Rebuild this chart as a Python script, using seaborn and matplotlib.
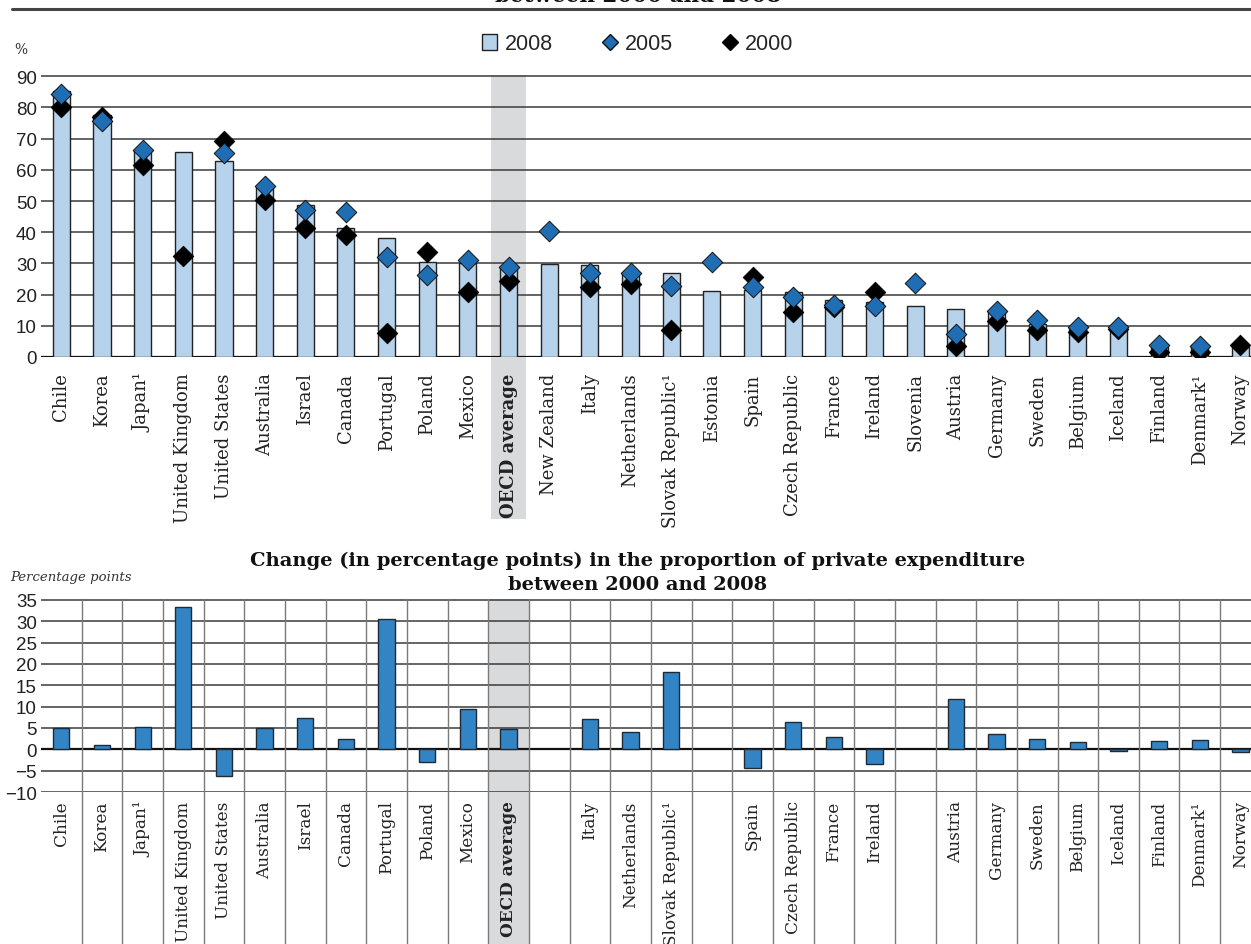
import numpy as np
import pandas as pd
import matplotlib
matplotlib.use("Agg")
import matplotlib.pyplot as plt
import seaborn as sns
from matplotlib.lines import Line2D
from matplotlib.patches import Patch

nan = np.nan
countries = ["Chile", "Korea", "Japan¹", "United Kingdom", "United States", "Australia",
             "Israel", "Canada", "Portugal", "Poland", "Mexico", "OECD average",
             "New Zealand", "Italy", "Netherlands", "Slovak Republic¹", "Estonia", "Spain",
             "Czech Republic", "France", "Ireland", "Slovenia", "Austria", "Germany",
             "Sweden", "Belgium", "Iceland", "Finland", "Denmark¹", "Norway"]
share_2008 = [85.2, 77.6, 66.3, 65.6, 62.7, 54.9, 48.7, 41.3, 38.0, 30.5, 30.2, 29.1,
              29.8, 29.4, 27.2, 27.0, 21.3, 21.6, 20.8, 18.4, 17.5, 16.3, 15.3, 14.7,
              10.6, 9.6, 8.7, 3.2, 3.8, 3.2]
share_2005 = [84.3, 75.8, 66.4, nan, 65.3, 54.9, 47.0, 46.6, 32.1, 26.2, 31.2, 29.0,
              40.5, 27.0, 26.9, 22.8, 30.3, 22.3, 19.1, 16.7, 16.3, 23.6, 7.4, 14.9,
              12.0, 9.6, 9.6, 3.9, 3.5, nan]
share_2000 = [80.2, 76.8, 61.4, 32.4, 69.3, 50.2, 41.3, 39.0, 7.6, 33.5, 20.7, 24.4,
              nan, 22.5, 23.4, 8.8, nan, 25.8, 14.3, 15.9, 20.9, nan, 3.5, 11.4,
              8.5, 8.0, 8.9, 1.5, 1.7, 3.7]
change_2000_2008 = [4.9, 1.0, 5.2, 33.3, -6.3, 4.9, 7.3, 2.4, 30.5, -3.0, 9.4, 4.7,
                    nan, 7.0, 4.0, 18.2, nan, -4.3, 6.4, 2.8, -3.4, nan, 11.7, 3.6,
                    2.4, 1.8, -0.4, 1.9, 2.2, -0.6]
top_yticks = [0, 10, 20, 30, 40, 50, 60, 70, 80, 90]
bottom_yticks = [-10, -5, 0, 5, 10, 15, 20, 25, 30, 35]
highlight = "OECD average"

BAR_LIGHT = "#b7d3ec"
BLUE = "#1f6db3"
BAR_DARK = "#3384c4"
BAND = "#d9dadc"
GRID = "#3a3a3a"
SANS = ["Liberation Sans", "DejaVu Sans"]
SERIF = ["DejaVu Serif"]

sns.set_theme(style="white")
plt.rcParams["font.family"] = SANS

W, H = 1251, 945
fig = plt.figure(figsize=(W / 100, H / 100), dpi=100)

left_px, right_px = 41, 1251
n = len(countries)
cat_w = 40.66
x_right = -0.5 + (right_px - left_px) / cat_w

def fx(px):
    return px / W

def fy(px):
    return 1 - px / H

# ---------------- top chart ----------------
ax1 = fig.add_axes([fx(left_px), fy(358), fx(right_px - left_px), (358 - 76) / H])
cat = pd.Categorical(countries, categories=countries)
df = pd.DataFrame({"country": cat, "y2008": share_2008, "y2005": share_2005,
                   "y2000": share_2000, "chg": change_2000_2008})

hi = countries.index(highlight)
ax1.axvspan(hi - 0.43, hi + 0.43, ymin=-(520 - 358) / 282, ymax=1.0,
            color=BAND, zorder=0, clip_on=False, lw=0)
for t in top_yticks:
    ax1.axhline(t, color=GRID if t else "#111", lw=1.1 if t else 1.6, zorder=1)

sns.barplot(data=df, x="country", y="y2008", order=countries, color=BAR_LIGHT,
            saturation=1, width=0.42, edgecolor="#222222", linewidth=1.0,
            ax=ax1, zorder=2)
sns.scatterplot(data=df, x="country", y="y2000", marker="D", s=110, color="#000000",
                edgecolor="#000000", linewidth=0.6, ax=ax1, zorder=4, legend=False)
sns.scatterplot(data=df, x="country", y="y2005", marker="D", s=110, color=BLUE,
                edgecolor="#111111", linewidth=0.7, ax=ax1, zorder=5, legend=False)

ax1.set_xlim(-0.5, x_right)
ax1.set_ylim(0, 90.4)
ax1.set_yticks(top_yticks)
ax1.set_xlabel("")
ax1.set_ylabel("")
for s in ax1.spines.values():
    s.set_visible(False)
ax1.tick_params(axis="both", length=0)
ax1.tick_params(axis="y", pad=3, labelsize=13.5, labelcolor="#222")
ax1.tick_params(axis="x", pad=11, labelsize=13, labelcolor="#222")
ax1.set_xticks(range(n))
ax1.set_xticklabels(countries, rotation=90, va="top", ha="center")
for lab in ax1.get_xticklabels():
    lab.set_fontfamily(SERIF)
    if lab.get_text() == highlight:
        lab.set_fontweight("bold")
for lab in ax1.get_yticklabels():
    lab.set_fontfamily(SANS)

# ---------------- bottom chart ----------------
ax2 = fig.add_axes([fx(left_px), fy(793), fx(right_px - left_px), (793 - 600) / H])
ax2.axvspan(hi - 0.5, hi + 0.5, ymin=-(945 - 793) / 193, ymax=1.0,
            color=BAND, zorder=0, clip_on=False, lw=0)
for t in bottom_yticks:
    ax2.axhline(t, color=GRID if t else "#111", lw=1.1 if t else 1.6, zorder=1)
for i in range(n - 1):
    ax2.axvline(i + 0.5, ymin=-(945 - 793) / 193, ymax=1.0, color="#7a7a7a",
                lw=1.0, zorder=1, clip_on=False)

sns.barplot(data=df, x="country", y="chg", order=countries, color=BAR_DARK,
            saturation=1, width=0.4, edgecolor="#1e2a36", linewidth=1.0,
            ax=ax2, zorder=3)
ax2.set_xlim(-0.5, x_right)
ax2.set_ylim(-10, 35.2)
ax2.set_yticks(bottom_yticks)
ax2.set_xlabel("")
ax2.set_ylabel("")
for s in ax2.spines.values():
    s.set_visible(False)
ax2.tick_params(axis="both", length=0)
ax2.tick_params(axis="y", pad=3, labelsize=13.5, labelcolor="#222")
ax2.tick_params(axis="x", pad=6, labelsize=12.2, labelcolor="#222")
bottom_labels = [c if not np.isnan(v) else "" for c, v in zip(countries, change_2000_2008)]
ax2.set_xticks(range(n))
ax2.set_xticklabels(bottom_labels, rotation=90, va="top", ha="center")
for lab in ax2.get_xticklabels():
    lab.set_fontfamily(SERIF)
    if lab.get_text() == highlight:
        lab.set_fontweight("bold")
for lab in ax2.get_yticklabels():
    lab.set_fontfamily(SANS)

# ---------------- texts / legend ----------------
fig.add_artist(Line2D([fx(12), 1.0], [fy(10), fy(10)], color="#444444", lw=2.2))
fig.text(fx(638), fy(-4), "between 2000 and 2008", ha="center", va="center",
         fontsize=15.5, fontweight="bold", family=SERIF, color="#111")
fig.text(fx(14), fy(50), "%", ha="left", va="center", fontsize=10, family=SERIF,
         color="#333")
fig.text(fx(638), fy(573),
         "Change (in percentage points) in the proportion of private expenditure\nbetween 2000 and 2008",
         ha="center", va="center", fontsize=14, fontweight="bold", family=SERIF,
         color="#111", linespacing=1.4)
fig.text(fx(10), fy(578), "Percentage points", ha="left", va="center", fontsize=9.5,
         style="italic", family=SERIF, color="#333")

handles = [
    Patch(facecolor=BAR_LIGHT, edgecolor="#222222", linewidth=1.0, label="2008"),
    Line2D([], [], ls="", marker="D", markersize=8, markerfacecolor=BLUE,
           markeredgecolor="#111", label="2005"),
    Line2D([], [], ls="", marker="D", markersize=8, markerfacecolor="#000",
           markeredgecolor="#000", label="2000"),
]
fig.legend(handles=handles, loc="center", bbox_to_anchor=(fx(638), fy(45)), ncol=3,
           frameon=False, handlelength=0.7, handleheight=0.7, handletextpad=0.35,
           columnspacing=2.3, prop={"family": SANS, "size": 15.5})

fig.savefig("out.png", dpi=100)
